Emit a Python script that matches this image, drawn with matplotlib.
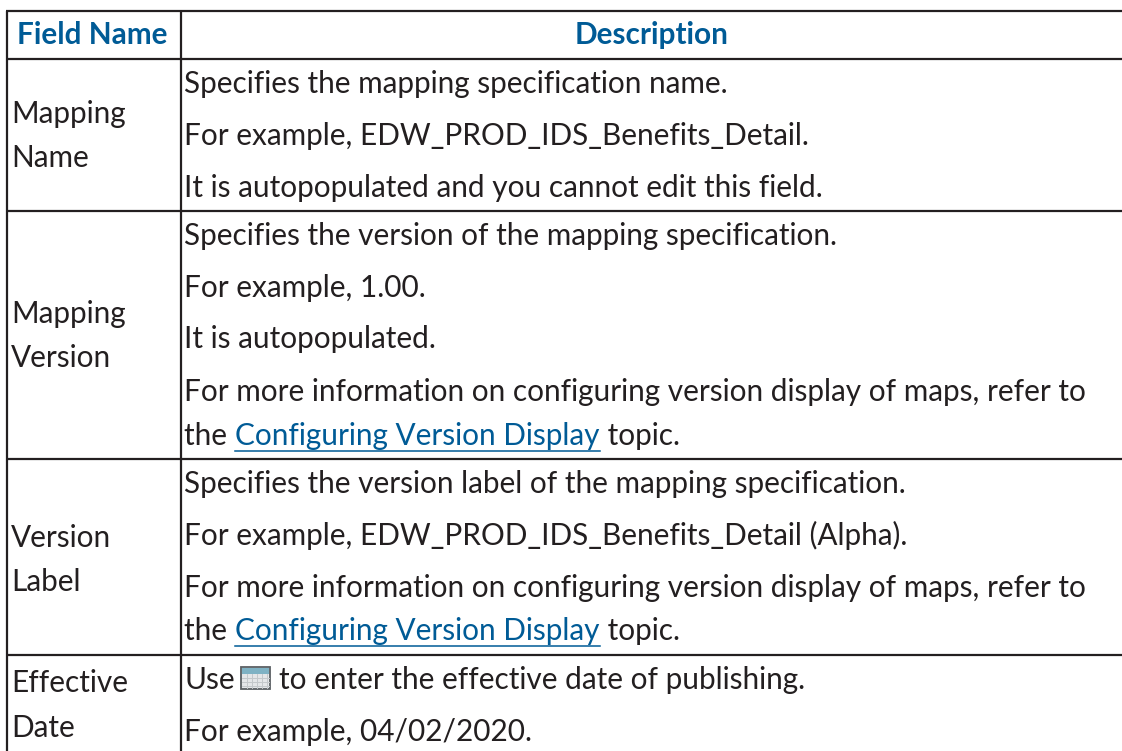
import matplotlib
matplotlib.use('Agg')
import matplotlib.pyplot as plt
from matplotlib.patches import Rectangle

plt.rcParams['font.family'] = ['Lato', 'DejaVu Sans']

headers = ['Field Name', 'Description']
field_names = ['Mapping', 'Name', 'Mapping', 'Version', 'Version', 'Label', 'Effective', 'Date']
desc_text = [
    'Specifies the mapping specification name.',
    'For example, EDW_PROD_IDS_Benefits_Detail.',
    'It is autopopulated and you cannot edit this field.',
    'Specifies the version of the mapping specification.',
    'For example, 1.00.',
    'It is autopopulated.',
    'For more information on configuring version display of maps, refer to',
    'Specifies the version label of the mapping specification.',
    'For example, EDW_PROD_IDS_Benefits_Detail (Alpha).',
    'For more information on configuring version display of maps, refer to',
    'For example, 04/02/2020.',
]
link_parts = ['the ', 'Configuring Version Display', ' topic.']
use_parts = ['Use', 'to enter the effective date of publishing.']

# layout, all in picture pixels
DARK = '#231f20'
BLUE = '#005b96'
SIZE = 21.4
col_x = [7, 181]
row_y = [11, 59, 211, 459, 655]
name_base = [123, 167, 323, 367, 547, 591, 692, 737]
desc_base = [92.5, 145, 197, 245, 297, 348, 400.5, 492.5, 545, 597, 741]
link_base = [445, 640]

fig = plt.figure(figsize=(11.22, 7.51), dpi=100)
ax = fig.add_axes([0, 0, 1, 1])
ax.set_xlim(0, 1122)
ax.set_ylim(751, 0)
ax.axis('off')

for y in row_y:
    ax.plot([col_x[0] - 1, 1122], [y, y], color=DARK, lw=1.6, solid_capstyle='butt')
for x in col_x:
    ax.plot([x, x], [row_y[0], 751], color=DARK, lw=1.6, solid_capstyle='butt')

ax.text(92.5, 44, headers[0], color=BLUE, fontsize=SIZE, fontweight='bold', ha='center', va='baseline')
ax.text(652, 44, headers[1], color=BLUE, fontsize=SIZE, fontweight='bold', ha='center', va='baseline')

for s, y in zip(field_names, name_base):
    ax.text(11, y, s, color=DARK, fontsize=SIZE, va='baseline')
for s, y in zip(desc_text, desc_base):
    ax.text(184.5, y, s, color=DARK, fontsize=SIZE, va='baseline')

renderer = fig.canvas.get_renderer()


def link_line(y):
    x = 184.5
    for i, s in enumerate(link_parts):
        col = BLUE if i == 1 else DARK
        t = ax.text(x, y, s, color=col, fontsize=SIZE, va='baseline')
        w = t.get_window_extent(renderer).width
        if i == 1:
            ax.plot([x, x + w], [y + 5.5, y + 5.5], color=BLUE, lw=1.1)
        x += w


for y in link_base:
    link_line(y)

# line with the calendar icon
ax.text(184.5, 689, use_parts[0], color=DARK, fontsize=SIZE, va='baseline')
ax.add_patch(Rectangle((241, 666.5), 29, 22, fc='#e4e6e8', ec='#5a5f63', lw=1.3))
ax.add_patch(Rectangle((242, 668), 27, 6, fc='#7fb2c4', ec='none'))
for gx in [247, 252, 257, 262, 267]:
    ax.plot([gx, gx], [674, 688], color='#c4c8cb', lw=0.7)
for gy in [678, 682, 686]:
    ax.plot([242, 269], [gy, gy], color='#c4c8cb', lw=0.7)
ax.text(279, 689, use_parts[1], color=DARK, fontsize=SIZE, va='baseline')

fig.savefig('out.png', dpi=100)
